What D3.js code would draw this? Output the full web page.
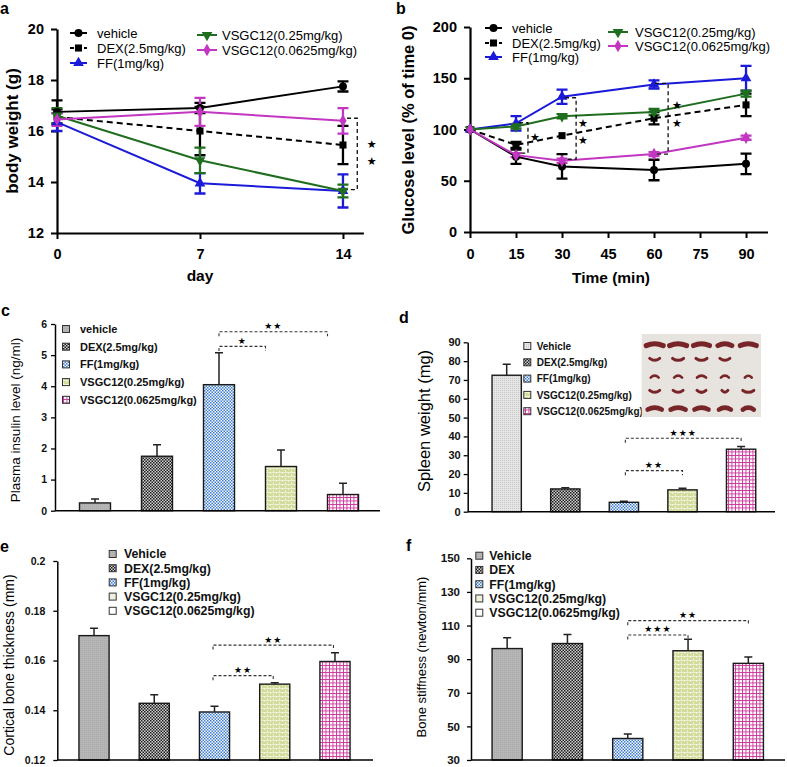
<!DOCTYPE html>
<html>
<head>
<meta charset="UTF-8">
<style>
  body { margin: 0; background: #fff; }
  svg { display: block; font-family: "Liberation Sans", Arial, sans-serif; }
</style>
</head>
<body>
<svg id="fig" width="787" height="767"></svg>
<script src="https://d3js.org/d3.v7.min.js"></script>
<script>
// ---------- data ----------
const lineGroups = ["vehicle", "DEX(2.5mg/kg)", "FF(1mg/kg)", "VSGC12(0.25mg/kg)", "VSGC12(0.0625mg/kg)"];

// a: body weight (g) by day
const days = [0, 7, 14];
const bwVehicle = [16.75, 16.9, 17.75];
const bwVehicleErr = [0.45, 0.2, 0.2];
const bwDex = [16.55, 16.0, 15.45];
const bwDexErr = [0.3, 0.95, 0.75];
const bwFF = [16.35, 13.95, 13.65];
const bwFFErr = [0.35, 0.4, 0.65];
const bwV25 = [16.6, 14.85, 13.65];
const bwV25Err = [0.3, 0.5, 0.25];
const bwV0625 = [16.45, 16.75, 16.4];
const bwV0625Err = [0.25, 0.55, 0.5];

// b: glucose level (% of time 0) by minute
const minutes = [0, 15, 30, 60, 90];
const gluVehicle = [100, 73.5, 64, 60.5, 66.5];
const gluVehicleErr = [0, 7, 12, 10, 10];
const gluDex = [100, 85, 94, 111, 124];
const gluDexErr = [0, 3, 0, 6, 11];
const gluFF = [100, 106, 132, 144, 150];
const gluFFErr = [0, 7, 7, 4, 12];
const gluV25 = [100, 103, 113, 117, 135];
const gluV25Err = [0, 2, 2, 3, 3];
const gluV0625 = [100, 75, 69.5, 76, 92];
const gluV0625Err = [0, 2, 2, 2, 2];

// c: plasma insulin (ng/ml)
const groupsC = ["vehicle", "DEX(2.5mg/kg)", "FF(1mg/kg)", "VSGC12(0.25mg/kg)", "VSGC12(0.0625mg/kg)"];
const insulin = [0.25, 1.75, 4.05, 1.42, 0.52];
const insulinErr = [0.13, 0.37, 1.03, 0.53, 0.36];

// d: spleen weight (mg)
const groupsD = ["Vehicle", "DEX(2.5mg/kg)", "FF(1mg/kg)", "VSGC12(0.25mg/kg)", "VSGC12(0.0625mg/kg)"];
const spleen = [72.5, 12.1, 5.0, 11.6, 33.2];
const spleenErr = [5.8, 0.6, 0.5, 0.9, 1.4];

// e: cortical bone thickness (mm)
const groupsE = ["Vehicle", "DEX(2.5mg/kg)", "FF(1mg/kg)", "VSGC12(0.25mg/kg)", "VSGC12(0.0625mg/kg)"];
const thickness = [0.170, 0.1428, 0.1393, 0.1505, 0.1596];
const thicknessErr = [0.003, 0.0034, 0.0023, 0.0006, 0.0035];

// f: bone stiffness (newton/mm)
const groupsF = ["Vehicle", "DEX", "FF(1mg/kg)", "VSGC12(0.25mg/kg)", "VSGC12(0.0625mg/kg)"];
const stiffness = [96.3, 99.3, 42.8, 95.0, 87.5];
const stiffnessErr = [6.5, 5.3, 2.7, 6.8, 3.8];

// significance brackets in bar panels: [fromBar, fromFrac, toBar, toFrac, yValue, stars]
const sigC = [[2, 0.5, 4, 0, 5.75, "★★"], [2, 0.5, 3, 0, 5.28, "★"]];
const sigD = [[2, 0.55, 4, 0.5, 39, "★★★"], [2, 0.55, 3, 0.5, 21.8, "★★"]];
const sigE = [[2, 0.45, 4, 0.45, 0.1662, "★★"], [2, 0.45, 3, 0.45, 0.1539, "★★"]];
const sigF = [[2, 0.5, 4, 0.5, 112.9, "★★"], [2, 0.5, 3, 0.5, 104.4, "★★★"]];

// brackets in line panels: [xLeft, xRight, yTop, yBottom] and star points [x, y]
const bracketsA = [[14.2, 14.7, 16.5, 13.7]];
const starsA = [[15.4, 15.5], [15.4, 14.8]];
const bracketsB = [[16, 18.9, 106.6, 77], [31, 34.6, 131, 71], [60.3, 64.6, 145, 76]];
const starsB = [[21.2, 92.7], [36.8, 106], [36.8, 90], [67.5, 124], [67.5, 106.6]];

// spleen photo inset: length of each spleen per row (0 = missing)
const spleenRows = [[17, 17, 16, 14, 16], [10, 11, 11, 10, 0], [8, 8, 9, 8, 7], [10, 10, 9, 6, 11], [14, 15, 14, 12, 11]];
const spleenThick = [5, 3, 2.6, 3, 4.6];

// ---------- setup ----------
const svg = d3.select("#fig");
const defs = svg.append("defs");

function pattern(id, w, h, bg) {
  const p = defs.append("pattern").attr("id", id)
    .attr("patternUnits", "userSpaceOnUse").attr("width", w).attr("height", h);
  p.append("rect").attr("width", w).attr("height", h).attr("fill", bg);
  return p;
}
pattern("pVeh", 2, 2, "#b6b6b6").append("rect").attr("width", 1).attr("height", 1).attr("fill", "#a9a9a9");
pattern("pVehLight", 2, 2, "#e6e6e6").append("rect").attr("width", 1).attr("height", 1).attr("fill", "#c6c6c6");
const pd = pattern("pDex", 3, 3, "#d0d0d0");
pd.append("rect").attr("width", 1.5).attr("height", 1.5).attr("fill", "#1c1c1c");
pd.append("rect").attr("x", 1.5).attr("y", 1.5).attr("width", 1.5).attr("height", 1.5).attr("fill", "#1c1c1c");
const pf = pattern("pFF", 3, 3, "#ffffff");
pf.append("rect").attr("width", 1.5).attr("height", 1.5).attr("fill", "#3b7bd0");
pf.append("rect").attr("x", 1.5).attr("y", 1.5).attr("width", 1.5).attr("height", 1.5).attr("fill", "#3b7bd0");
const pv = pattern("pV25", 6, 4, "#d2da9c");
pv.append("rect").attr("width", 6).attr("height", 0.8).attr("fill", "#f3f5de");
pv.append("rect").attr("width", 0.8).attr("height", 2).attr("fill", "#f3f5de");
pv.append("rect").attr("x", 3).attr("y", 2).attr("width", 0.8).attr("height", 2).attr("fill", "#f3f5de");
const pm = pattern("pV0625", 3.5, 3.5, "#ffffff");
pm.append("rect").attr("width", 3.5).attr("height", 0.9).attr("fill", "#cc3399");
pm.append("rect").attr("width", 0.9).attr("height", 3.5).attr("fill", "#cc3399");

const barFills = ["url(#pVeh)", "url(#pDex)", "url(#pFF)", "url(#pV25)", "url(#pV0625)"];

function panelLetter(t, x, y) {
  svg.append("text").attr("x", x).attr("y", y).text(t)
    .attr("font-size", 16).attr("font-weight", "bold");
}

function yLabel(t, x, yc, size, bold) {
  svg.append("text").attr("transform", `translate(${x},${yc}) rotate(-90)`)
    .attr("text-anchor", "middle").attr("font-size", size)
    .attr("font-weight", bold ? "bold" : "normal").text(t);
}

// ---------- line panels ----------
const lineColors = ["#000000", "#000000", "#1a1ad8", "#1f6e1f", "#c236c2"];
const lineSymbols = [d3.symbolCircle, d3.symbolSquare, d3.symbolTriangle, d3.symbolTriangle, d3.symbolDiamond];
const lineRot = [0, 0, 0, 180, 0];
const lineDash = [null, "6,4", null, null, null];
const symSize = [50, 50, 50, 50, 45];

function marker(g, i, cx, cy) {
  g.append("path")
    .attr("d", d3.symbol().type(lineSymbols[i]).size(symSize[i])())
    .attr("transform", `translate(${cx},${cy}) rotate(${lineRot[i]})`)
    .attr("fill", lineColors[i]);
}

function linePanel(cfg) {
  const g = svg.append("g");
  const x = d3.scaleLinear().domain(cfg.xDomain).range(cfg.xRange);
  const y = d3.scaleLinear().domain(cfg.yDomain).range(cfg.yRange);

  const ax = g.append("g").attr("transform", `translate(0,${cfg.yRange[0]})`)
    .call(d3.axisBottom(x).tickValues(cfg.xTicks).tickSize(6).tickSizeOuter(0).tickPadding(cfg.xPad));
  const ay = g.append("g").attr("transform", `translate(${cfg.xRange[0]},0)`)
    .call(d3.axisLeft(y).tickValues(cfg.yTicks).tickSize(6).tickSizeOuter(0).tickPadding(7));
  [ax, ay].forEach(a => {
    a.select(".domain").attr("stroke-width", 2.2);
    a.selectAll(".tick line").attr("stroke-width", 2);
    a.selectAll("text").attr("font-size", 14.5).attr("font-weight", "bold")
      .attr("font-family", "Liberation Sans, Arial, sans-serif").attr("fill", "#000");
  });

  const line = d3.line().x((d, k) => x(cfg.xs[k])).y(d => y(d));
  cfg.series.forEach((s, i) => {
    s.values.forEach((v, k) => {
      const e = s.errs[k];
      if (e <= 0) return;
      const cx = x(cfg.xs[k]);
      g.append("path")
        .attr("d", `M${cx},${y(v - e)}V${y(v + e)}M${cx - 5.5},${y(v - e)}H${cx + 5.5}M${cx - 5.5},${y(v + e)}H${cx + 5.5}`)
        .attr("stroke", lineColors[i]).attr("stroke-width", 2.3).attr("fill", "none");
    });
  });
  cfg.series.forEach((s, i) => {
    g.append("path").datum(s.values).attr("d", line)
      .attr("fill", "none").attr("stroke", lineColors[i]).attr("stroke-width", 2)
      .attr("stroke-dasharray", lineDash[i]);
    s.values.forEach((v, k) => marker(g, i, x(cfg.xs[k]), y(v)));
  });

  cfg.brackets.forEach(b => {
    g.append("path")
      .attr("d", `M${x(b[0])},${y(b[2])}H${x(b[1])}V${y(b[3])}H${x(b[0])}`)
      .attr("fill", "none").attr("stroke", "#111").attr("stroke-width", 1.3).attr("stroke-dasharray", "4,3");
  });
  cfg.stars.forEach(p => {
    g.append("text").attr("x", x(p[0])).attr("y", y(p[1])).attr("dy", "0.35em")
      .attr("text-anchor", "middle").attr("font-size", 11)
      .attr("font-family", "DejaVu Sans").text("★");
  });

  // legend
  lineGroups.forEach((name, i) => {
    const L = cfg.legend[i];
    g.append("line").attr("x1", L[0]).attr("x2", L[1]).attr("y1", L[3]).attr("y2", L[3])
      .attr("stroke", lineColors[i]).attr("stroke-width", 2).attr("stroke-dasharray", lineDash[i] ? "4,3" : null);
    marker(g, i, (L[0] + L[1]) / 2, L[3]);
    g.append("text").attr("x", L[2]).attr("y", L[3]).attr("dy", "0.36em")
      .attr("font-size", 13).text(name);
  });

  g.append("text").attr("x", cfg.xLabel[1]).attr("y", cfg.xLabel[2]).attr("text-anchor", "middle")
    .attr("font-size", 15.5).attr("font-weight", "bold").text(cfg.xLabel[0]);
}

linePanel({
  xs: days, xDomain: [0, 15], xRange: [57, 363.4], xTicks: days, xPad: 10,
  yDomain: [12, 20], yRange: [233, 29], yTicks: [12, 14, 16, 18, 20],
  series: [
    { values: bwVehicle, errs: bwVehicleErr }, { values: bwDex, errs: bwDexErr },
    { values: bwFF, errs: bwFFErr }, { values: bwV25, errs: bwV25Err },
    { values: bwV0625, errs: bwV0625Err }
  ],
  brackets: bracketsA, stars: starsA,
  legend: [[70, 87, 97, 33], [70, 87, 97, 48], [70, 87, 97, 63], [197, 217, 222, 35], [197, 217, 222, 50]],
  xLabel: ["day", 200, 281]
});

linePanel({
  xs: minutes, xDomain: [0, 97], xRange: [470, 767.5], xTicks: [0, 15, 30, 45, 60, 75, 90], xPad: 11,
  yDomain: [0, 200], yRange: [232, 27], yTicks: [0, 50, 100, 150, 200],
  series: [
    { values: gluVehicle, errs: gluVehicleErr }, { values: gluDex, errs: gluDexErr },
    { values: gluFF, errs: gluFFErr }, { values: gluV25, errs: gluV25Err },
    { values: gluV0625, errs: gluV0625Err }
  ],
  brackets: bracketsB, stars: starsB,
  legend: [[485, 502, 512, 28], [485, 502, 512, 43], [485, 502, 512, 57], [608, 628, 635, 32], [608, 628, 635, 46]],
  xLabel: ["Time (min)", 611, 283]
});

panelLetter("a", 0, 14);
panelLetter("b", 396, 14);
yLabel("body weight (g)", 18, 131, 17, true);
yLabel("Glucose level (%  of time 0)", 414, 130, 16.5, true);

// ---------- bar panels ----------
function barPanel(cfg) {
  const g = svg.append("g");
  const x = d3.scaleBand().domain(cfg.groups).range(cfg.xRange).paddingInner(0.5).paddingOuter(0.25);
  const y = d3.scaleLinear().domain(cfg.yDomain).range(cfg.yRange);
  const base = cfg.yRange[0];

  g.selectAll("rect.bar").data(cfg.values).join("rect").attr("class", "bar")
    .attr("x", (d, i) => x(cfg.groups[i])).attr("width", x.bandwidth())
    .attr("y", d => y(d)).attr("height", d => base - y(d))
    .attr("fill", (d, i) => cfg.fills[i]).attr("stroke", "#1a1a1a").attr("stroke-width", 1.4);

  cfg.values.forEach((v, i) => {
    const cx = x(cfg.groups[i]) + x.bandwidth() / 2;
    const top = y(v + cfg.errs[i]);
    g.append("path").attr("d", `M${cx},${y(v)}V${top}M${cx - 4},${top}H${cx + 4}`)
      .attr("stroke", "#222").attr("stroke-width", 1.5).attr("fill", "none");
  });

  const ay = g.append("g").attr("transform", `translate(${cfg.axisX},0)`)
    .call(d3.axisLeft(y).tickValues(cfg.ticks).tickSize(4).tickSizeOuter(0).tickPadding(cfg.tickPad)
      .tickFormat(cfg.fmt || (d => d)));
  ay.select(".domain").attr("stroke-width", 1.5);
  ay.selectAll(".tick line").attr("stroke-width", 1.3);
  ay.selectAll("text").attr("font-size", cfg.tickFont).attr("font-weight", "bold")
    .attr("font-family", "Liberation Sans, Arial, sans-serif").attr("fill", "#111");
  g.append("line").attr("x1", cfg.axisX).attr("x2", cfg.axisEnd).attr("y1", base).attr("y2", base)
    .attr("stroke", "#000").attr("stroke-width", 1.5);

  cfg.sig.forEach(s => {
    const x0 = x(cfg.groups[s[0]]) + x.bandwidth() * s[1];
    const x1 = x(cfg.groups[s[2]]) + x.bandwidth() * s[3];
    const yy = y(s[4]);
    g.append("path").attr("d", `M${x0},${yy + 4.5}V${yy}H${x1}V${yy + 4.5}`)
      .attr("fill", "none").attr("stroke", "#333").attr("stroke-width", 1.1).attr("stroke-dasharray", "3,2");
    g.append("text").attr("x", (x0 + x1) / 2).attr("y", yy - 2.5).attr("text-anchor", "middle")
      .attr("font-family", "DejaVu Sans").attr("font-size", 9).attr("letter-spacing", 1).text(s[5]);
  });

  const L = cfg.legend;
  cfg.groups.forEach((name, i) => {
    const yy = L.y0 + i * L.step;
    g.append("rect").attr("x", L.x - 3.5).attr("y", yy - 3.5).attr("width", 7).attr("height", 7)
      .attr("fill", L.fills[i]).attr("stroke", "#333").attr("stroke-width", 1);
    g.append("text").attr("x", L.tx).attr("y", yy).attr("dy", "0.36em")
      .attr("font-size", L.fs).attr("font-weight", "bold").attr("fill", "#111").text(name);
  });
  return g;
}

barPanel({
  groups: groupsC, values: insulin, errs: insulinErr, fills: barFills,
  xRange: [64, 374], yDomain: [0, 6], yRange: [510.7, 324], axisX: 55, axisEnd: 380,
  ticks: d3.range(0, 7), tickFont: 10.5, tickPad: 4, sig: sigC,
  legend: { x: 66, tx: 80, y0: 329, step: 17.7, fs: 11, fills: barFills }
});
barPanel({
  groups: groupsD, values: spleen, errs: spleenErr,
  fills: ["url(#pVehLight)", barFills[1], barFills[2], barFills[3], barFills[4]],
  xRange: [477.4, 770.4], yDomain: [0, 90], yRange: [511.7, 342.3], axisX: 467.7, axisEnd: 775,
  ticks: d3.range(0, 91, 10), tickFont: 11, tickPad: 3, sig: sigD,
  legend: { x: 527.3, tx: 536.7, y0: 346, step: 16.3, fs: 10,
    fills: ["url(#pVehLight)", barFills[1], barFills[2], barFills[3], barFills[4]] }
});
barPanel({
  groups: groupsE, values: thickness, errs: thicknessErr, fills: barFills,
  xRange: [63.9, 365.1], yDomain: [0.12, 0.2], yRange: [760, 561], axisX: 57.3, axisEnd: 373,
  ticks: [0.12, 0.14, 0.16, 0.18, 0.2], fmt: d => +d.toFixed(2), tickFont: 10.5, tickPad: 8, sig: sigE,
  legend: { x: 112.7, tx: 124, y0: 554, step: 14.2, fs: 12.3,
    fills: [barFills[0], barFills[1], barFills[2], "#eef2dc", "#ffffff"] }
});
barPanel({
  groups: groupsF, values: stiffness, errs: stiffnessErr, fills: barFills,
  xRange: [477, 778.5], yDomain: [30, 150], yRange: [760, 558.3], axisX: 471, axisEnd: 785,
  ticks: d3.range(30, 151, 20), tickFont: 11.5, tickPad: 7, sig: sigF,
  legend: { x: 479.3, tx: 489.3, y0: 555.7, step: 14.25, fs: 12.3,
    fills: [barFills[0], barFills[1], barFills[2], "#eef2dc", "#ffffff"] }
});

panelLetter("c", 1, 316);
panelLetter("d", 399, 323);
panelLetter("e", 0, 552);
panelLetter("f", 406, 551);
yLabel("Plasma insulin level (ng/ml)", 20, 420, 13.5, false);
yLabel("Spleen weight (mg)", 430, 421, 16.5, false);
yLabel("Cortical bone thickness (mm)", 14, 665, 14, false);
yLabel("Bone stiffness (newton/mm)", 426, 657, 13, false);

// ---------- spleen photo inset (panel d) ----------
const photo = svg.append("g");
const px = d3.scaleBand().domain(d3.range(5)).range([643, 760]);
const py = d3.scaleBand().domain(d3.range(5)).range([336, 416]);
photo.append("rect").attr("x", 641.7).attr("y", 334).attr("width", 119.3).attr("height", 83)
  .attr("fill", "#e7e3de");
spleenRows.forEach((row, r) => {
  row.forEach((len, c) => {
    if (!len) return;
    const cx = px(c) + px.bandwidth() / 2, cy = py(r) + py.bandwidth() / 2;
    const bow = (r % 2 ? -1 : 1) * 1.6;
    photo.append("path")
      .attr("d", `M${cx - len / 2},${cy + bow}Q${cx},${cy - bow * 1.4} ${cx + len / 2},${cy + bow}`)
      .attr("fill", "none").attr("stroke", "#6e1518").attr("stroke-width", spleenThick[r])
      .attr("stroke-linecap", "round").attr("opacity", 0.92);
  });
});
</script>
</body>
</html>
